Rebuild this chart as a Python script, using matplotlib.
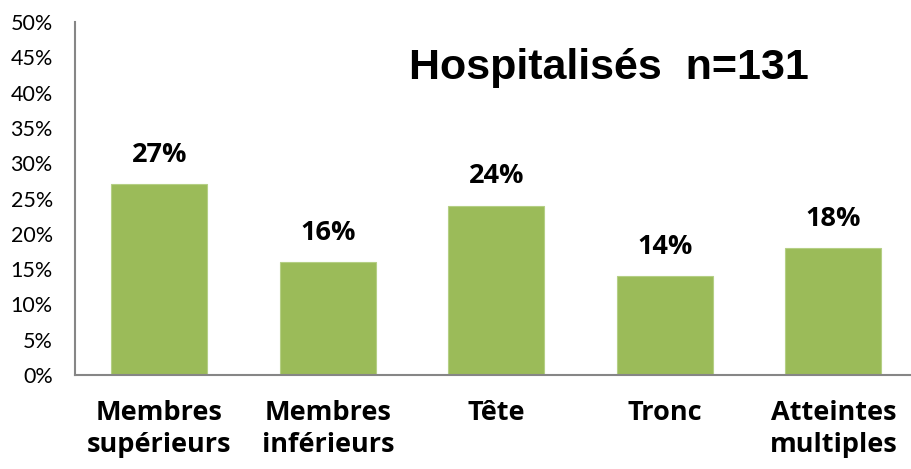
import matplotlib
matplotlib.use("Agg")
import matplotlib.pyplot as plt
from matplotlib.ticker import PercentFormatter

categories = ["Membres\nsupérieurs", "Membres\ninférieurs", "Tête", "Tronc", "Atteintes\nmultiples"]
values = [27, 16, 24, 14, 18]
yticks = list(range(0, 55, 5))

bar_color = "#9BBB59"
axis_color = "#868686"

fig = plt.figure(figsize=(9.11, 4.69), dpi=100)
ax = fig.add_axes([75 / 911, 94 / 469, 842.5 / 911, 353 / 469])

x = list(range(len(categories)))
bars = ax.bar(x, values, width=0.57, color=bar_color, edgecolor="#b5cf85", linewidth=0.8)

ax.set_xlim(-0.5, len(categories) - 0.5)
ax.set_ylim(0, 50)
ax.set_yticks(yticks)
ax.yaxis.set_major_formatter(PercentFormatter(decimals=0))

for side in ["top", "right"]:
    ax.spines[side].set_visible(False)
for side in ["left", "bottom"]:
    ax.spines[side].set_color(axis_color)
    ax.spines[side].set_linewidth(1.5)

ax.tick_params(axis="y", length=0, pad=16, labelsize=15.5)
ax.tick_params(axis="x", length=0, pad=18)
for lab in ax.get_yticklabels():
    lab.set_family("Lato")
ax.set_xticks(x)
ax.set_xticklabels(categories, family="Open Sans", fontweight="bold", fontsize=19.5, linespacing=1.3)

for xi, v in zip(x, values):
    ax.annotate(f"{v}%", (xi, v), xytext=(0, 21), textcoords="offset points",
                ha="center", va="center", family="Open Sans", fontweight="bold", fontsize=19.5)

fig.text(609 / 911, 1 - 68 / 469, "Hospitalisés  n=131", ha="center", va="center",
         family="Liberation Sans", fontweight="bold", fontsize=31)

fig.savefig("out.png", dpi=100)
